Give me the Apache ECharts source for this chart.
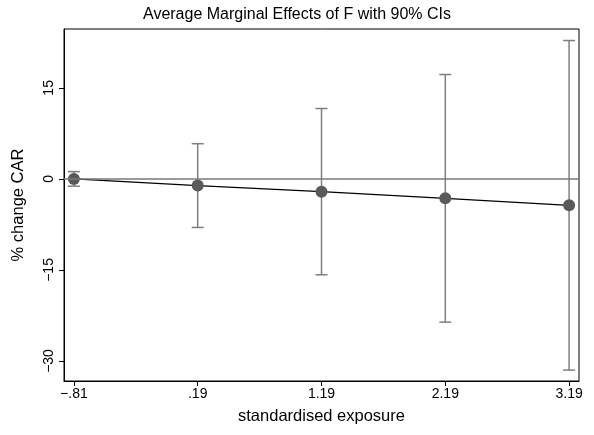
<!DOCTYPE html>
<html>
<head>
<meta charset="utf-8">
<script src="https://cdn.jsdelivr.net/npm/echarts@6/dist/echarts.min.js"></script>
<style>
  html, body { margin: 0; padding: 0; background: #fff; }
  #chart { width: 594px; height: 435px; }
</style>
</head>
<body>
<div id="chart"></div>
<script>
// standardised exposure levels
var exposure = [-0.81, 0.19, 1.19, 2.19, 3.19];
// average marginal effects and 90% CI bounds
var effect = [0.0, -1.1, -2.1, -3.2, -4.35];
var ciLow = [-1.2, -8.0, -15.8, -23.6, -31.5];
var ciHigh = [1.2, 5.8, 11.6, 17.2, 22.8];
var yTicks = [-30, -15, 0, 15];

function fmtNum(v) {
	var s = String(Math.abs(v));
	if (s.indexOf('0.') === 0) s = s.slice(1);
	return (v < 0 ? '\u2212' : '') + s;
}

var chart = echarts.init(document.getElementById('chart'));

var points = exposure.map(function(x, i) { return [x, effect[i]]; });
var bars = exposure.map(function(x, i) { return [x, ciLow[i], ciHigh[i]]; });

chart.setOption({
	animation: false,
	textStyle: { fontFamily: 'Liberation Sans, Arial, sans-serif' },
	title: {
		text: 'Average Marginal Effects of F with 90% CIs',
		left: 'center',
		top: 2,
		textStyle: { fontSize: 16, fontWeight: 'normal', color: '#000' }
	},
	grid: {
		left: 64, right: 15, top: 29, bottom: 54,
		outerBoundsMode: 'none',
		show: true, borderColor: '#000', borderWidth: 1
	},
	xAxis: {
		type: 'value',
		min: -0.89,
		max: 3.27,
		name: 'standardised exposure',
		nameLocation: 'middle',
		nameGap: 27,
		nameTextStyle: { fontSize: 16.5, color: '#000' },
		axisLine: { onZero: false, lineStyle: { color: '#000' } },
		axisTick: { customValues: exposure, length: 5, lineStyle: { color: '#000' } },
		axisLabel: { customValues: exposure, fontSize: 14, color: '#000', margin: 6, formatter: fmtNum },
		splitLine: { show: false }
	},
	yAxis: {
		type: 'value',
		min: -33.3,
		max: 24.7,
		name: '% change CAR',
		nameLocation: 'middle',
		nameGap: 37,
		nameTextStyle: { fontSize: 16.5, color: '#000' },
		axisLine: { show: true, onZero: false, lineStyle: { color: '#000' } },
		axisTick: { customValues: yTicks, length: 5, lineStyle: { color: '#000' } },
		axisLabel: { customValues: yTicks, fontSize: 14, color: '#000', rotate: 90, margin: 8, formatter: fmtNum },
		splitLine: { show: false }
	},
	series: [{
		type: 'custom',
		data: bars,
		z: 2,
		renderItem: function(params, api) {
			var lo = api.coord([api.value(0), api.value(1)]);
			var hi = api.coord([api.value(0), api.value(2)]);
			var w = 6;
			var style = { stroke: '#7f7f7f', lineWidth: 1.5 };
			return {
				type: 'group',
				children: [
					{ type: 'line', shape: { x1: lo[0], y1: lo[1], x2: hi[0], y2: hi[1] }, style: style },
					{ type: 'line', shape: { x1: lo[0] - w, y1: lo[1], x2: lo[0] + w, y2: lo[1] }, style: style },
					{ type: 'line', shape: { x1: hi[0] - w, y1: hi[1], x2: hi[0] + w, y2: hi[1] }, style: style }
				]
			};
		}
	}, {
		type: 'line',
		data: points,
		z: 3,
		symbol: 'circle',
		symbolSize: 12,
		itemStyle: { color: '#5a5a5a' },
		lineStyle: { color: '#000', width: 1.2 },
		markLine: {
			silent: true,
			symbol: 'none',
			label: { show: false },
			lineStyle: { color: '#7a7a7a', width: 1.5, type: 'solid' },
			data: [{ yAxis: 0 }]
		}
	}]
});
</script>
</body>
</html>
